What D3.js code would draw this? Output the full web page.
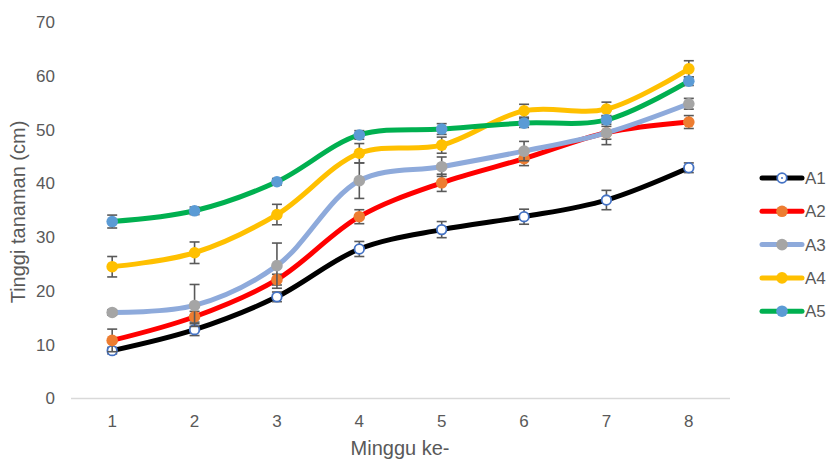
<!DOCTYPE html>
<html>
<head>
<meta charset="utf-8">
<script src="https://cdn.jsdelivr.net/npm/d3@7"></script>
<style>
  body { margin: 0; background: #fff; }
  svg { display: block; font-family: "Liberation Sans Narrow", "Arial Narrow", "Liberation Sans", sans-serif; }
</style>
</head>
<body>
<div id="chart"></div>
<script>
// data
const weeks = ["1", "2", "3", "4", "5", "6", "7", "8"];
const yTicks = [0, 10, 20, 30, 40, 50, 60, 70];
const seriesNames = ["A1", "A2", "A3", "A4", "A5"];

const a1 = [8.9, 12.8, 18.9, 27.8, 31.4, 33.8, 36.9, 42.9];
const a2 = [10.8, 15.2, 22.1, 33.8, 40.1, 44.6, 49.4, 51.4];
const a3 = [16.0, 17.3, 24.7, 40.5, 43.1, 46.0, 49.4, 54.8];
const a4 = [24.5, 27.1, 34.2, 45.6, 47.1, 53.5, 53.8, 61.3];
const a5 = [32.9, 34.9, 40.3, 49.0, 50.1, 51.2, 51.8, 59.0];

const a1err = [0.6, 1.1, 0.9, 1.4, 1.5, 1.4, 1.8, 0.9];
const a2err = [2.1, 1.0, 1.0, 1.3, 1.6, 1.3, 1.2, 1.2];
const a3err = [0.5, 3.9, 4.2, 3.3, 1.8, 1.8, 2.2, 1.0];
const a4err = [1.9, 2.0, 1.9, 1.8, 1.5, 1.2, 1.3, 1.5];
const a5err = [1.2, 0.7, 0.6, 0.8, 1.0, 0.8, 0.8, 0.8];

const values = [a1, a2, a3, a4, a5];
const errors = [a1err, a2err, a3err, a4err, a5err];
const lineColors = ["#000000", "#ff0000", "#8eaadb", "#ffc000", "#00b050"];
const markFill = ["#ffffff", "#ed7d31", "#a5a5a5", "#ffc000", "#5b9bd5"];
const markStroke = ["#4472c4", "#ed7d31", "#a5a5a5", "#ffc000", "#5b9bd5"];

const width = 827, height = 461;
const plotLeft = 71, plotRight = 730, plotTop = 22, plotBottom = 398.5;

const svg = d3.select("#chart").append("svg")
    .attr("width", width)
    .attr("height", height);

const x = d3.scaleBand().domain(weeks).range([plotLeft, plotRight]);
const y = d3.scaleLinear().domain([0, 70]).range([plotBottom, plotTop]);
const cx = d => x(d) + x.bandwidth() / 2;

// baseline
svg.append("line")
    .attr("x1", plotLeft).attr("x2", plotRight)
    .attr("y1", y(0)).attr("y2", y(0))
    .attr("stroke", "#d9d9d9").attr("stroke-width", 1.5);

// y tick labels
svg.append("g").selectAll("text")
    .data(yTicks)
  .enter().append("text")
    .attr("x", 55)
    .attr("y", d => y(d))
    .attr("dy", "0.35em")
    .attr("text-anchor", "end")
    .attr("fill", "#595959")
    .style("font-size", "17px")
    .text(d => d);

// x tick labels
svg.append("g").selectAll("text")
    .data(weeks)
  .enter().append("text")
    .attr("x", d => cx(d))
    .attr("y", 421)
    .attr("dy", "0.35em")
    .attr("text-anchor", "middle")
    .attr("fill", "#595959")
    .style("font-size", "17px")
    .text(d => d);

// axis titles
svg.append("text")
    .attr("x", 400).attr("y", 455)
    .attr("text-anchor", "middle")
    .attr("fill", "#595959")
    .style("font-size", "20px")
    .text("Minggu ke-");

svg.append("text")
    .attr("transform", "translate(25,212) rotate(-90)")
    .attr("text-anchor", "middle")
    .attr("fill", "#595959")
    .style("font-size", "20px")
    .text("Tinggi tanaman (cm)");

const line = d3.line()
    .x((d, i) => cx(weeks[i]))
    .y(d => y(d))
    .curve(d3.curveCatmullRom.alpha(0.5));

values.forEach((vals, s) => {
  const g = svg.append("g");

  g.append("path")
      .attr("d", line(vals))
      .attr("fill", "none")
      .attr("stroke", lineColors[s])
      .attr("stroke-width", 5)
      .attr("stroke-linecap", "round");

  const eb = g.selectAll(".err")
      .data(vals)
    .enter().append("g")
      .attr("stroke", "#595959")
      .attr("stroke-width", 1.6);

  eb.append("line")
      .attr("x1", (d, i) => cx(weeks[i])).attr("x2", (d, i) => cx(weeks[i]))
      .attr("y1", (d, i) => y(d - errors[s][i]))
      .attr("y2", (d, i) => y(d + errors[s][i]));
  eb.append("line")
      .attr("x1", (d, i) => cx(weeks[i]) - 5).attr("x2", (d, i) => cx(weeks[i]) + 5)
      .attr("y1", (d, i) => y(d + errors[s][i]))
      .attr("y2", (d, i) => y(d + errors[s][i]));
  eb.append("line")
      .attr("x1", (d, i) => cx(weeks[i]) - 5).attr("x2", (d, i) => cx(weeks[i]) + 5)
      .attr("y1", (d, i) => y(d - errors[s][i]))
      .attr("y2", (d, i) => y(d - errors[s][i]));

  g.selectAll("circle")
      .data(vals)
    .enter().append("circle")
      .attr("cx", (d, i) => cx(weeks[i]))
      .attr("cy", d => y(d))
      .attr("r", s === 0 ? 4.8 : 5.8)
      .attr("fill", markFill[s])
      .attr("stroke", markStroke[s])
      .attr("stroke-width", s === 0 ? 1.8 : 0);
});

// legend
const legend = svg.append("g").selectAll("g")
    .data(seriesNames)
  .enter().append("g")
    .attr("transform", (d, i) => "translate(0," + (178 + i * 33.3) + ")");

legend.append("line")
    .attr("x1", 762).attr("x2", 802)
    .attr("stroke", (d, i) => lineColors[i])
    .attr("stroke-width", 5)
    .attr("stroke-linecap", "round");

legend.append("circle")
    .attr("cx", 782)
    .attr("r", (d, i) => i === 0 ? 4.8 : 5.8)
    .attr("fill", (d, i) => markFill[i])
    .attr("stroke", (d, i) => markStroke[i])
    .attr("stroke-width", (d, i) => i === 0 ? 1.8 : 0);

legend.filter((d, i) => i === 0).append("circle")
    .attr("cx", 782).attr("r", 1)
    .attr("fill", "#4472c4");

legend.append("text")
    .attr("x", 805)
    .attr("dy", "0.35em")
    .attr("fill", "#595959")
    .style("font-size", "17px")
    .text(d => d);
</script>
</body>
</html>
